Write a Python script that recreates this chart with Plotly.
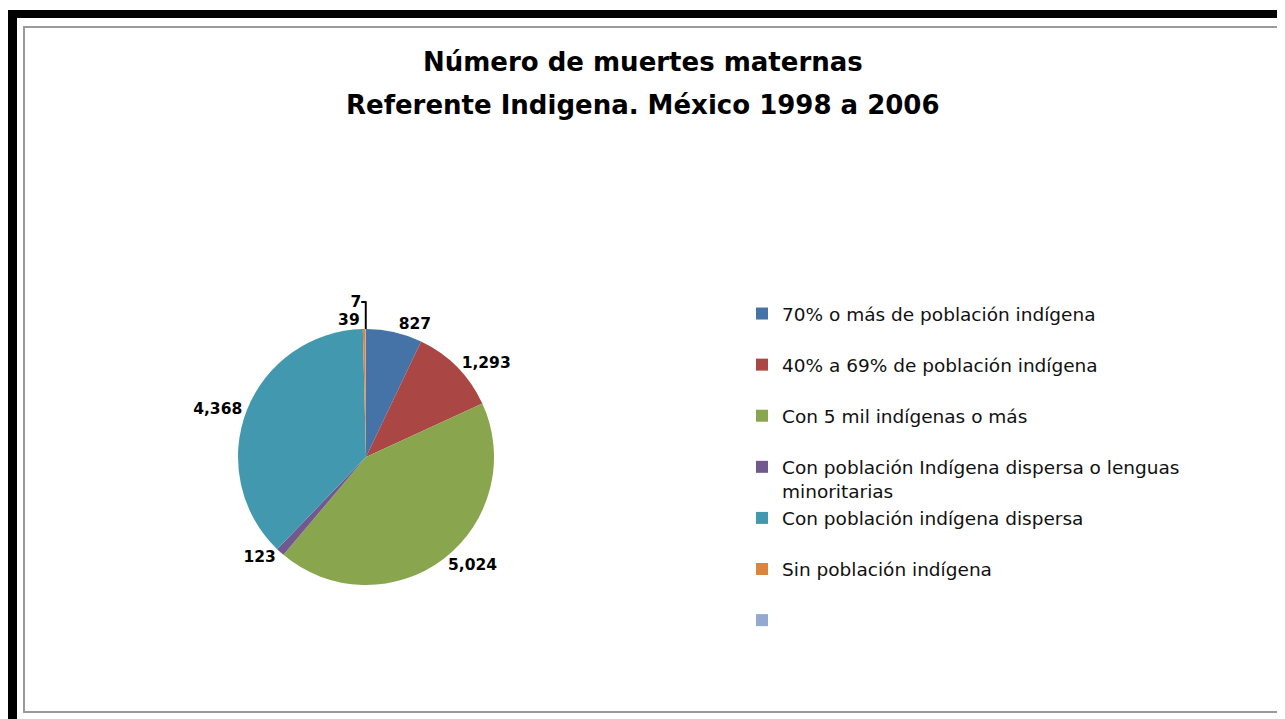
import plotly.graph_objects as go

W, H = 1285, 719
OFF = 8  # page body margin offset in the screenshot

categories = [
    "70% o más de población indígena",
    "40% a 69% de población indígena",
    "Con 5 mil indígenas o más",
    "Con población Indígena dispersa o lenguas<br>minoritarias",
    "Con población indígena dispersa",
    "Sin población indígena",
    " ",
]
values = [827, 1293, 5024, 123, 4368, 39, 7]
colors = ["#4572A7", "#AA4643", "#89A54E", "#71588F", "#4198AF", "#DB843D", "#93A9CF"]

title_lines = ["Número de muertes maternas", "Referente Indigena. México 1998 a 2006"]


def px_x(x):
    return (x - OFF) / W


def px_y(y):
    return 1 - (y - OFF) / H


# pie placement (screen pixels)
cx, cy, r = 366, 457, 128

legend_labels = [c if "<br>" in c else c + "<br> " for c in categories]

fig = go.Figure()
fig.add_trace(go.Pie(
    labels=legend_labels,
    values=values,
    sort=False,
    direction="clockwise",
    rotation=0,
    marker=dict(colors=colors, line=dict(width=0)),
    texttemplate="%{value:,}",
    textposition="outside",
    textfont=dict(family="DejaVu Sans", size=15.5, color="#000000", weight="bold"),
    showlegend=True,
    domain=dict(x=[px_x(cx - r), px_x(cx + r)], y=[px_y(cy + r), px_y(cy - r)]),
    hoverinfo="label+value",
))

shapes = [
    # outer black frame (top and left)
    dict(type="rect", xref="paper", yref="paper", x0=px_x(8), x1=1.0, y0=px_y(18), y1=px_y(10),
         fillcolor="#000000", line=dict(width=0), layer="above"),
    dict(type="rect", xref="paper", yref="paper", x0=px_x(8), x1=px_x(17), y0=0, y1=px_y(10),
         fillcolor="#000000", line=dict(width=0), layer="above"),
    # inner gray border
    dict(type="rect", xref="paper", yref="paper", x0=px_x(24), x1=px_x(1278), y0=px_y(712), y1=px_y(27),
         fillcolor="rgba(0,0,0,0)", line=dict(color="#9a9a9a", width=2), layer="above"),
]

title_font = dict(family="DejaVu Sans", size=26, color="#000000", weight="bold")
annotations = [
    dict(text=title_lines[0], xref="paper", yref="paper", x=px_x(643), y=px_y(62),
         xanchor="center", yanchor="middle", showarrow=False, font=title_font),
    dict(text=title_lines[1], xref="paper", yref="paper", x=px_x(643), y=px_y(105),
         xanchor="center", yanchor="middle", showarrow=False, font=title_font),
]

fig.update_layout(
    width=W, height=H,
    margin=dict(l=0, r=0, t=0, b=0),
    paper_bgcolor="white",
    plot_bgcolor="white",
    font=dict(family="DejaVu Sans", color="#000000"),
    legend=dict(
        x=px_x(742), xanchor="left",
        y=px_y(295), yanchor="top",
        valign="top",
        font=dict(family="DejaVu Sans", size=18.5, color="#111111"),
        bgcolor="rgba(0,0,0,0)",
        tracegroupgap=0,
    ),
    shapes=shapes,
    annotations=annotations,
)

fig.write_html("out.html")
